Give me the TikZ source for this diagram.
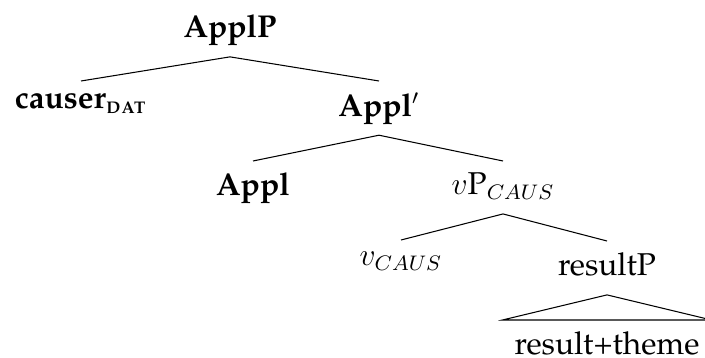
\documentclass[12pt,tikz,border=0pt]{standalone}
\usepackage[T1]{fontenc}
\usepackage{palatino}
\usepackage{amsmath}
\usetikzlibrary{positioning}
\tikzstyle{cat}=[anchor=north,inner sep=4.4pt,text depth=2.6pt]
\tikzstyle{branch} = [draw=black,thin,-]

\begin{document}
\begin{tikzpicture}[x=0.38pt,y=-0.38pt]
  \useasboundingbox (0,0) rectangle (705,358);
  \node[cat] (applp)  at (230,3)   {\textbf{ApplP}};
  \node[cat] (causer) at (81,81)   {\textbf{causer}\textsubscript{\textbf{\textsc{dat}}}};
  \node[cat] (applb)  at (379,81)  {\textbf{Appl}$'$};
  \node[cat] (appl)   at (253,161) {\textbf{Appl}};
  \node[cat] (vp)     at (503,161) {$v$P$_{CAUS}$};
  \node[cat] (v)      at (401,240) {$v_{CAUS}$};
  \node[cat] (resp)   at (607,241) {resultP};
  \node[cat] (rest)   at (607,320) {result+theme};

  % Connect mothers with daughters
  \foreach \source / \dest in {applp/causer, applp/applb,
                               applb/appl, applb/vp,
                               vp/v, vp/resp}
      \path[branch] (\source.south) -- (\dest.north);

  % roof over the result phrase
  \path[branch] (resp.south) -- (rest.north east) -- (rest.north west) -- cycle;
\end{tikzpicture}
\end{document}
